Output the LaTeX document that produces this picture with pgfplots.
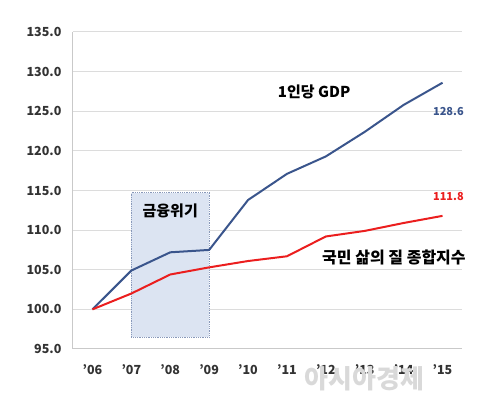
\documentclass[border=0pt]{standalone}
\usepackage{pgfplots}
\pgfplotsset{compat=1.18}
\usepackage{fontspec}
\setmainfont{Noto Sans CJK KR}
\definecolor{gdpblue}{RGB}{58,85,140}
\definecolor{qred}{RGB}{235,30,30}
\definecolor{boxfill}{RGB}{220,228,242}
\definecolor{gridg}{RGB}{220,220,220}
\begin{document}
\begin{tikzpicture}[x=1pt,y=1pt]
\begin{axis}[
  name=ax,
  scale only axis,
  width=389pt, height=317pt,
  xmin=-0.5, xmax=9.5,
  ymin=95, ymax=135,
  ytick={95,100,...,135},
  xtick={0,...,9},
  xticklabels={'06,'07,'08,'09,'10,'11,'12,'13,'14,'15},
  yticklabel style={xshift=-8pt},
  y tick label style={/pgf/number format/.cd,fixed,fixed zerofill,precision=1},
  /pgf/number format/assume math mode=true,
  ymajorgrids,
  grid style={gridg, line width=1pt},
  axis x line*=bottom, axis y line*=left,
  axis line style={gridg!80!gray, line width=1pt, -},
  major tick length=0pt,
  tick label style={font=\fontsize{12.5}{14}\selectfont\bfseries, text=black!80},
  xticklabel style={yshift=-12pt},
  clip=false,
]
\addplot[fill=boxfill, draw=gdpblue!60, densely dotted, line width=0.8pt] coordinates {(1,96.5) (3,96.5) (3,114.7) (1,114.7)} -- cycle;
\addplot[gdpblue, line width=2pt] coordinates {
(0,100.0) (1,104.9) (2,107.2) (3,107.5) (4,113.8) (5,117.1) (6,119.3) (7,122.4) (8,125.8) (9,128.6)};
\addplot[qred, line width=2pt] coordinates {
(0,100.0) (1,102.0) (2,104.4) (3,105.3) (4,106.1) (5,106.7) (6,109.2) (7,109.9) (8,110.9) (9,111.8)};
\node[font=\fontsize{15}{17}\selectfont\bfseries] at (axis cs:2,112.4) {금융위기};
\node[font=\fontsize{15}{17}\selectfont\bfseries] at (axis cs:5.7,127.5) {1인당 GDP};
\node[font=\fontsize{16}{18}\selectfont\bfseries] at (axis cs:7.75,106.6) {국민 삶의 질 종합지수};
\node[font=\fontsize{11}{13}\selectfont\bfseries, text=gdpblue] at (axis cs:9.15,125.0) {128.6};
\node[font=\fontsize{11}{13}\selectfont\bfseries, text=qred] at (axis cs:9.15,114.3) {111.8};
\node[font=\fontsize{26}{28}\selectfont\bfseries, text=gray!30] at (axis cs:7,91.3) {아시아경제};
\end{axis}
\path[use as bounding box] ([xshift=-73pt,yshift=-50pt]ax.south west) rectangle ([xshift=33pt,yshift=32pt]ax.north east);
\end{tikzpicture}
\end{document}
